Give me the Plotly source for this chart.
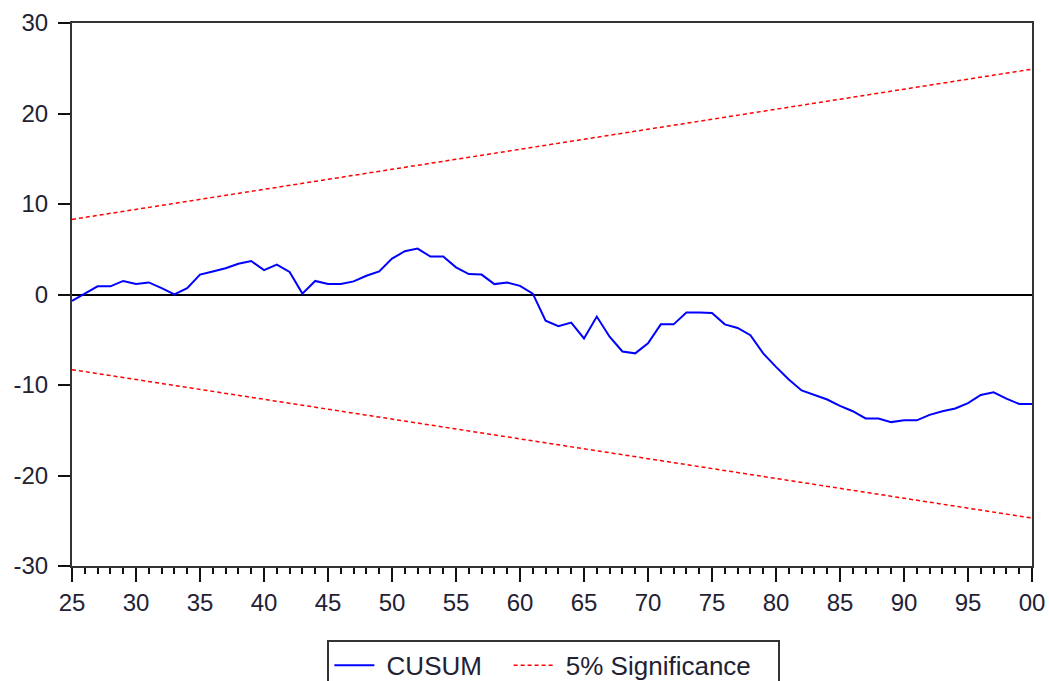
import plotly.graph_objects as go

years = list(range(1925, 2001))
cusum = [-0.7, 0.1, 0.9, 0.9, 1.5, 1.15, 1.33, 0.7, 0.0, 0.7,
         2.2, 2.55, 2.9, 3.4, 3.7, 2.7, 3.3, 2.5, 0.1, 1.5,
         1.15, 1.15, 1.45, 2.07, 2.55, 3.96, 4.78, 5.07, 4.2, 4.2,
         3.0, 2.26, 2.2, 1.15, 1.33, 0.96, 0.1, -2.9, -3.5, -3.1,
         -4.85, -2.44, -4.67, -6.3, -6.5, -5.4, -3.3, -3.3, -2.0, -2.0,
         -2.05, -3.3, -3.7, -4.5, -6.5, -8.0, -9.4, -10.6, -11.1, -11.6,
         -12.3, -12.9, -13.7, -13.7, -14.1, -13.9, -13.9, -13.3, -12.9, -12.6,
         -12.0, -11.1, -10.8, -11.5, -12.1, -12.1]
sig_years = [1925, 2000]
upper = [8.3, 24.9]
lower = [-8.3, -24.7]

major_years = list(range(1925, 2001, 5))
major_labels = [f"{y % 100:02d}" for y in major_years]
y_ticks = [-30, -20, -10, 0, 10, 20, 30]
y_labels = [str(v) for v in y_ticks]

NB = "\u00a0"
FONT = "Liberation Sans, Arial, sans-serif"
TXT = "#222233"

fig = go.Figure()
fig.add_trace(go.Scatter(x=years, y=cusum, mode="lines", name=NB + "CUSUM" + NB * 3,
                         line=dict(color="#0000ff", width=2)))
fig.add_trace(go.Scatter(x=sig_years, y=upper, mode="lines",
                         name=NB + "5% Significance" + NB * 3,
                         line=dict(color="#ff0000", width=1.5, dash="4px,3px")))
fig.add_trace(go.Scatter(x=sig_years, y=lower, mode="lines", name="5% Significance",
                         showlegend=False,
                         line=dict(color="#ff0000", width=1.5, dash="4px,3px")))

fig.update_layout(
    width=1049, height=681,
    margin=dict(l=72, r=17, t=23, b=115, autoexpand=False),
    paper_bgcolor="white", plot_bgcolor="white",
    font=dict(family=FONT, size=26, color=TXT),
    showlegend=True,
    legend=dict(orientation="h", x=0.266, xanchor="left", y=-0.136, yanchor="top",
                bordercolor="#333333", borderwidth=2, bgcolor="white",
                font=dict(family=FONT, size=26, color=TXT),
                itemwidth=40, tracegroupgap=0),
    xaxis=dict(range=[1925, 2000], tickmode="array", tickvals=major_years,
               ticktext=major_labels, ticks="outside", ticklen=14, tickwidth=2,
               tickcolor="#111", showline=True, linecolor="#333", linewidth=2,
               mirror=True, showgrid=False, zeroline=False,
               minor=dict(tickmode="array", tickvals=years, ticks="outside",
                          ticklen=6, tickwidth=2, tickcolor="#111", showgrid=False),
               tickfont=dict(family=FONT, size=24, color=TXT)),
    yaxis=dict(range=[-30, 30], tickmode="array", tickvals=y_ticks, ticktext=y_labels,
               ticks="outside", ticklen=12, tickwidth=2, tickcolor="#111",
               ticklabelstandoff=5,
               showline=True, linecolor="#333", linewidth=2, mirror=True,
               showgrid=False, zeroline=True, zerolinecolor="#000", zerolinewidth=1.5,
               tickfont=dict(family=FONT, size=24, color=TXT)),
)

fig.write_html("out.html", config={"displayModeBar": False},
               post_script="document.body.style.margin='0';document.body.style.overflow='hidden';")
